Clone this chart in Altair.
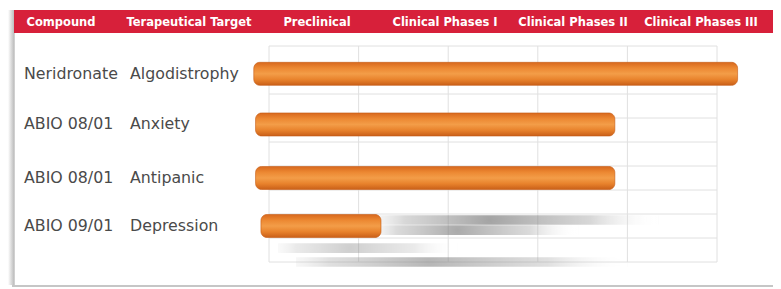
import altair as alt
import pandas as pd

# ---- data ----
compounds = ["Neridronate", "ABIO 08/01", "ABIO 08/01", "ABIO 09/01"]
targets = ["Algodistrophy", "Anxiety", "Antipanic", "Depression"]
bar_start = [-0.17, -0.15, -0.15, -0.09]   # in pipeline grid units
bar_end = [5.23, 3.86, 3.86, 1.25]
row_center = [1.16, 3.27, 5.5, 7.5]        # in grid row units
headers = ["Compound", "Terapeutical Target", "Preclinical",
           "Clinical Phases I", "Clinical Phases II", "Clinical Phases III"]
grid_cols = [0, 1, 2, 3, 4, 5]
grid_rows = [0, 1, 2, 3, 4, 5, 6, 7, 8, 9]
# soft reflections under the lowest bar
shadow_start = [1.2, 1.2, 0.1, 0.3]
shadow_end = [4.35, 3.45, 2.1, 4.0]
shadow_row = [7.25, 7.67, 8.42, 9.0]
shadow_alpha = [0.75, 0.7, 0.4, 0.6]

bars = pd.DataFrame({
    "compound": compounds, "target": targets,
    "start": bar_start, "end": bar_end, "center": row_center,
})
bars["top"] = bars["center"] - 0.48
bars["bottom"] = bars["center"] + 0.48

vgrid = pd.DataFrame({"j": grid_cols, "k0": grid_rows[0], "k1": grid_rows[-1]})
hgrid = pd.DataFrame({"k": grid_rows, "j0": grid_cols[0], "j1": grid_cols[-1]})
shadows = pd.DataFrame({"s": shadow_start, "e": shadow_end, "r": shadow_row,
                        "a": shadow_alpha})
shadows["t"] = shadows["r"] - 0.2
shadows["b"] = shadows["r"] + 0.2
head = pd.DataFrame({"h": headers})

xs = alt.Scale(domain=[-2.846, 5.625], nice=False, zero=False)
ys = alt.Scale(domain=[-1.5, 9.958], reverse=True, nice=False, zero=False)

grid_v = alt.Chart(vgrid).mark_rule(color="#e0e0e0", strokeWidth=1).encode(
    x=alt.X("j:Q", scale=xs, axis=None),
    y=alt.Y("k0:Q", scale=ys, axis=None), y2="k1:Q")
grid_h = alt.Chart(hgrid).mark_rule(color="#e0e0e0", strokeWidth=1).encode(
    x=alt.X("j0:Q", scale=xs, axis=None), x2="j1:Q",
    y=alt.Y("k:Q", scale=ys, axis=None))

shadow_fill = alt.RadialGradient(
    gradient="radial", x1=0.4, y1=0.5, x2=0.45, y2=0.5, r1=0, r2=0.55,
    stops=[alt.GradientStop(color="rgba(120,120,120,0.9)", offset=0),
           alt.GradientStop(color="rgba(150,150,150,0.5)", offset=0.6),
           alt.GradientStop(color="rgba(255,255,255,0)", offset=1)])
shadow = alt.Chart(shadows).mark_rect(fill=shadow_fill).encode(
    x=alt.X("s:Q", scale=xs, axis=None), x2="e:Q",
    y=alt.Y("t:Q", scale=ys, axis=None), y2="b:Q",
    opacity=alt.Opacity("a:Q", scale=None, legend=None))

bar_fill = alt.LinearGradient(
    gradient="linear", x1=0, y1=0, x2=0, y2=1,
    stops=[alt.GradientStop(color="#D8681D", offset=0),
           alt.GradientStop(color="#EC8832", offset=0.25),
           alt.GradientStop(color="#F39D48", offset=0.5),
           alt.GradientStop(color="#E8822C", offset=0.75),
           alt.GradientStop(color="#C95F18", offset=1)])
bar = alt.Chart(bars).mark_bar(fill=bar_fill, cornerRadius=6,
                               stroke="#C45A14", strokeWidth=0.6).encode(
    x=alt.X("start:Q", scale=xs, axis=None), x2="end:Q",
    y=alt.Y("top:Q", scale=ys, axis=None), y2="bottom:Q")

lab_c = alt.Chart(bars).mark_text(align="left", baseline="middle", font="DejaVu Sans",
                                  fontSize=15.8, color="#4a4a4a").encode(
    x=alt.value(10), y=alt.Y("center:Q", scale=ys, axis=None), text="compound:N")
lab_t = alt.Chart(bars).mark_text(align="left", baseline="middle", font="DejaVu Sans",
                                  fontSize=15.8, color="#4a4a4a").encode(
    x=alt.value(116), y=alt.Y("center:Q", scale=ys, axis=None), text="target:N")

head_bg = alt.Chart(alt.Data(values=[{}])).mark_rect(color="#D7203A").encode(
    x=alt.value(0), x2=alt.value("width"), y=alt.value(0), y2=alt.value(23))
head_txt = alt.Chart(head).mark_text(font="DejaVu Sans", fontWeight="bold",
                                     fontSize=11.5, color="white",
                                     baseline="middle").encode(
    x=alt.X("h:N", sort=None, axis=None,
            scale=alt.Scale(type="point", domain=headers, range=[47, 687], padding=0)),
    y=alt.value(13), text="h:N")

left_fill = alt.LinearGradient(
    gradient="linear", x1=0, y1=0, x2=1, y2=0,
    stops=[alt.GradientStop(color="#ffffff", offset=0),
           alt.GradientStop(color="#bdbdbd", offset=1)])
left_shadow = alt.Chart(alt.Data(values=[{}])).mark_rect(fill=left_fill).encode(
    x=alt.value(-6), x2=alt.value(0), y=alt.value(0), y2=alt.value("height"))
bottom_line = alt.Chart(alt.Data(values=[{}])).mark_rect(color="#c6c6c6").encode(
    x=alt.value(-2), x2=alt.value("width"), y=alt.value("height"),
    y2=alt.value(277))

chart = alt.layer(
    left_shadow, bottom_line, grid_v, grid_h, shadow, bar, lab_c, lab_t,
    head_bg, head_txt
).resolve_scale(x="independent").properties(
    width=759, height=275,
    padding={"left": 6, "right": 0, "top": 2, "bottom": 3},
    autosize=alt.AutoSizeParams(type="none"),
).configure_view(stroke="#d0d0d0", strokeWidth=1)

chart.save("out.html", embed_options={"renderer": "svg", "actions": False})
